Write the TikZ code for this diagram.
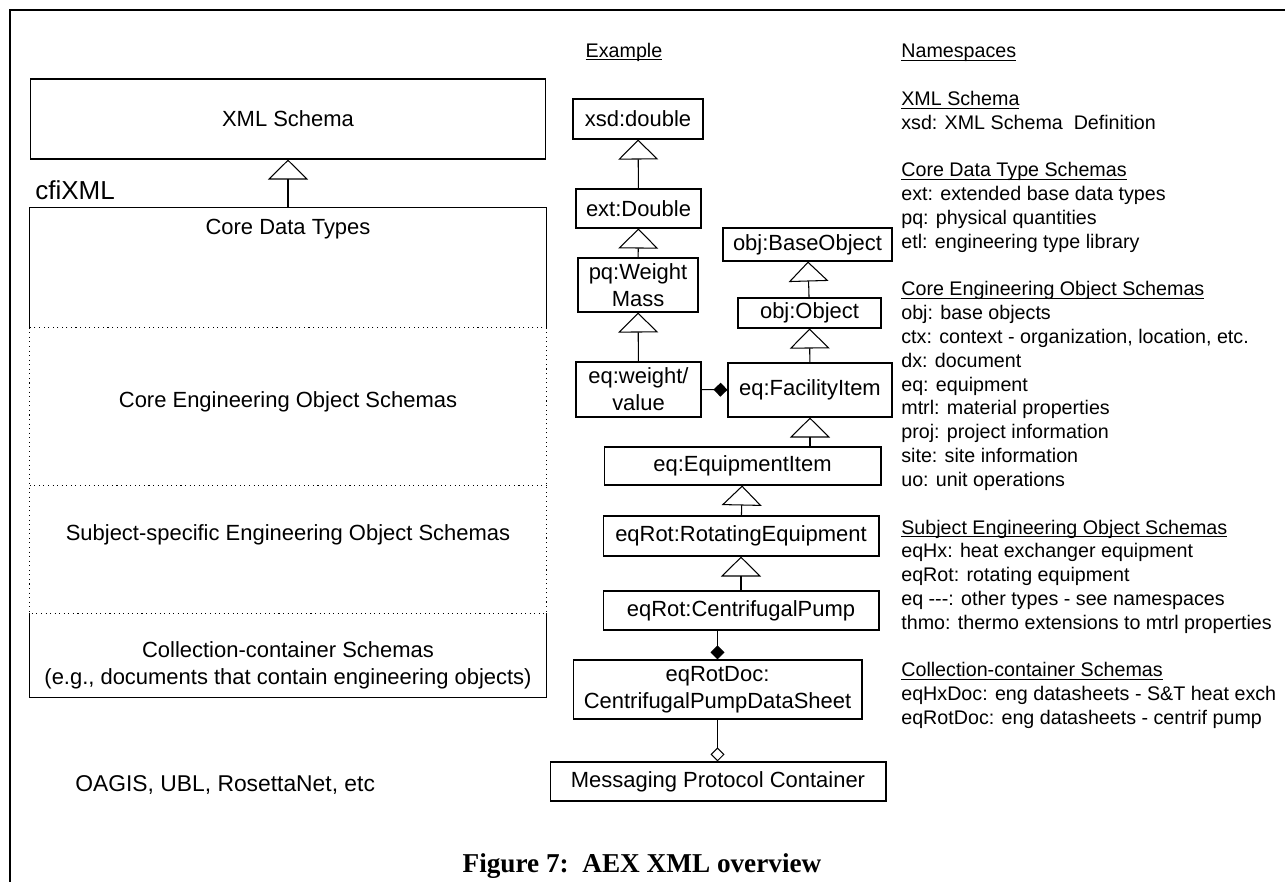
\documentclass[tikz,border=0pt]{standalone}
\usepackage{fontspec}
\setmainfont{Liberation Sans}
\newfontfamily\capfont{Liberation Serif}
\usetikzlibrary{arrows.meta}
\newcommand\ulin[1]{\underline{\smash{#1}}\vphantom{#1}}

\begin{document}
\begin{tikzpicture}[x=0.02cm, y=-0.02cm,
  box/.style={draw, line width=0.6pt, inner sep=0pt, align=center, font=\fontsize{12.5}{15.4}\selectfont},
  sect/.style={minimum width=10.32cm, inner sep=0pt},
  lbl/.style={align=center, inner sep=0pt, font=\fontsize{12.5}{15.4}\selectfont},
  gen/.style={line width=0.6pt, -{Triangle[open, length=0.4cm, width=0.8cm]}},
  comp/.style={line width=0.6pt, -{Diamond[length=0.28cm, width=0.28cm]}},
  aggr/.style={line width=0.6pt, -{Diamond[open, length=0.28cm, width=0.28cm]}}]

\useasboundingbox (0,0) rectangle (1285,882);
\draw[line width=1.1pt] (10,882) -- (10,10) -- (1285,10);

% left column
\node[box, minimum width=10.32cm, minimum height=1.6cm] (xmls) at (288,119) {XML Schema};
\node[anchor=west, inner sep=0pt, font=\fontsize{14.8}{17}\selectfont] (cfi) at (35,190) {cfiXML};

\node[sect, minimum height=2.4cm] (core) at (288,268) {};
\node[sect, minimum height=3.16cm] (ceo) at (288,407) {};
\node[sect, minimum height=2.54cm] (sub) at (288,549.5) {};
\node[sect, minimum height=1.68cm] (coll) at (288,655) {};

\draw[line width=0.6pt] (core.south west) -- (core.north west) -- (core.north east) -- (core.south east);
\draw[line width=0.6pt, dotted] (ceo.north west) rectangle (sub.south east);
\draw[line width=0.6pt, dotted] (sub.north west) -- (sub.north east);
\draw[line width=0.6pt] (coll.north west) -- (coll.south west) -- (coll.south east) -- (coll.north east);

\node[lbl] (tcore) at (288,229) {Core Data Types};
\node[lbl] (tceo) at (288,402) {Core Engineering Object Schemas};
\node[lbl] (tsub) at (288,535) {Subject-specific Engineering Object Schemas};
\node[lbl] (tcoll) at (288,665) {Collection-container Schemas\\(e.g., documents that contain engineering objects)};

\node[anchor=west, inner sep=0pt, font=\fontsize{13}{16}\selectfont] (oagis) at (75,785) {OAGIS, UBL, RosettaNet, etc};

\draw[gen] (core.north) -- (xmls.south);

% example
\node[inner sep=0pt, font=\fontsize{11.2}{13.55}\selectfont] (ex) at (624,52) {\ulin{Example}};

\node[box, minimum width=2.6cm, minimum height=0.8cm] (xsd) at (638,119) {xsd:double};
\node[box, minimum width=2.5cm, minimum height=0.78cm] (ext) at (638.5,208.5) {ext:Double};
\node[box, minimum width=2.4cm, minimum height=1.08cm] (pq) at (638,285) {pq:Weight\\Mass};
\node[box, minimum width=2.5cm, minimum height=1.1cm] (eqw) at (638.5,389.5) {eq:weight/\\value};
\node[box, minimum width=3.38cm, minimum height=0.66cm] (base) at (807.5,244.5) {obj:BaseObject};
\node[box, minimum width=2.86cm, minimum height=0.6cm] (obj) at (809.5,313) {obj:Object};
\node[box, minimum width=3.28cm, minimum height=1.08cm] (fac) at (810,390) {eq:FacilityItem};
\node[box, minimum width=5.54cm, minimum height=0.76cm] (equip) at (742.5,466) {eq:EquipmentItem};
\node[box, minimum width=5.52cm, minimum height=0.8cm] (rot) at (741,536) {eqRot:RotatingEquipment};
\node[box, minimum width=5.52cm, minimum height=0.78cm] (pump) at (741,610.5) {eqRot:CentrifugalPump};
\node[box, minimum width=5.78cm, minimum height=1.18cm] (doc) at (717.5,689.5) {eqRotDoc:\\CentrifugalPumpDataSheet};
\node[box, minimum width=6.72cm, minimum height=0.78cm] (msg) at (718,781.5) {Messaging Protocol Container};

\draw[gen] (ext) -- (xsd);
\draw[gen] (pq) -- (ext);
\draw[gen] (eqw) -- (pq);
\draw[gen] (obj) -- (base);
\draw[gen] (fac) -- (obj);
\draw[gen] (fac.south |- equip.north) -- (fac.south);
\draw[gen] (rot) -- (equip);
\draw[gen] (pump) -- (rot);
\draw[comp] (eqw) -- (fac);
\draw[comp] (doc.north |- pump.south) -- (doc.north);
\draw[aggr] (doc.south) -- (doc.south |- msg.north);

% namespaces
\node[anchor=north west, align=left, inner sep=0pt, font=\fontsize{11.2}{13.55}\selectfont] (ns) at (901,44) {\ulin{Namespaces}\\
~\\
\ulin{XML Schema}\\
xsd: XML Schema\ \ Definition\\
~\\
\ulin{Core Data Type Schemas}\\
ext: extended base data types\\
pq: physical quantities\\
etl: engineering type library\\
~\\
\ulin{Core Engineering Object Schemas}\\
obj: base objects\\
ctx: context - organization, location, etc.\\
dx: document\\
eq: equipment\\
mtrl: material properties\\
proj: project information\\
site: site information\\
uo: unit operations\\
~\\
\ulin{Subject Engineering Object Schemas}\\
eqHx: heat exchanger equipment\\
eqRot: rotating equipment\\
eq -{}-{}-: other types - see namespaces\\
thmo: thermo extensions to mtrl properties\\
~\\
\ulin{Collection-container Schemas}\\
eqHxDoc: eng datasheets - S\&T heat exch\\
eqRotDoc: eng datasheets - centrif pump};

\node[font=\capfont\bfseries\fontsize{15.5}{18}\selectfont] (cap) at (642,866) {Figure 7:\ \ AEX XML overview};

\end{tikzpicture}
\end{document}
